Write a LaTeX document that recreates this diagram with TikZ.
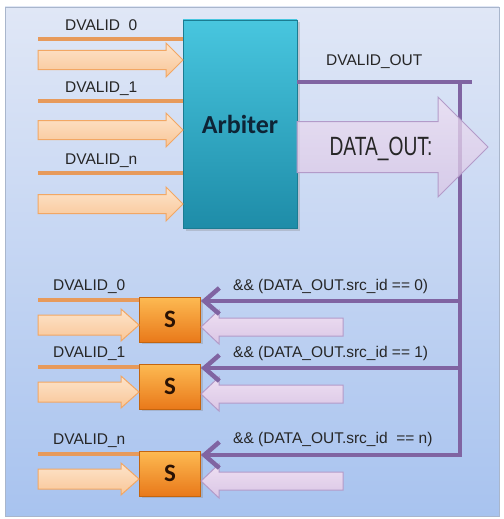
\documentclass[tikz,border=0pt]{standalone}
\usepackage{fontspec}
\setmainfont{Liberation Sans}
\newfontfamily\calibrifont{Carlito}
\usetikzlibrary{arrows.meta,shadows}

\definecolor{bgtop}{HTML}{E0E7F6}
\definecolor{bgbot}{HTML}{A8C3EF}
\definecolor{frameedge}{HTML}{A9B6CC}
\definecolor{arbtop}{HTML}{48C6DF}
\definecolor{arbbot}{HTML}{1E8CA8}
\definecolor{arbedge}{HTML}{1B7C92}
\definecolor{arbtext}{HTML}{0E2436}
\definecolor{sigorange}{HTML}{E79A5B}
\definecolor{peachtop}{HTML}{FDE4CB}
\definecolor{peachbot}{HTML}{F9C697}
\definecolor{peachedge}{HTML}{F2A764}
\definecolor{buspurple}{HTML}{8064A2}
\definecolor{lilactop}{HTML}{EEDFF2}
\definecolor{lilacbot}{HTML}{DAC6E5}
\definecolor{lilacedge}{HTML}{B39BC9}
\definecolor{stop}{HTML}{FDBA52}
\definecolor{sbot}{HTML}{E9791A}
\definecolor{sedge}{HTML}{C4650F}
\definecolor{stext}{HTML}{2A1204}

% block arrow: style, tail x, tip x, centre y, body half height, head half height, signed head length
\newcommand{\blockarrow}[7]{%
  \path[#1] ({#2},{#4-#5}) -- ({#3-(#7)},{#4-#5}) -- ({#3-(#7)},{#4-#6}) -- ({#3},{#4})
    -- ({#3-(#7)},{#4+#6}) -- ({#3-(#7)},{#4+#5}) -- ({#2},{#4+#5}) -- cycle;}

\tikzset{
  sig/.style={draw=sigorange, line width=3.5pt},
  bus/.style={draw=buspurple, line width=4.5pt},
  busarrow/.style={bus, -{Straight Barb[length=15pt,width=26pt]}},
  inarrow/.style={top color=peachtop, bottom color=peachbot, draw=peachedge, line width=1pt},
  backarrow/.style={top color=lilactop, bottom color=lilacbot, draw=lilacedge, line width=1pt},
  outarrow/.style={top color=lilactop, bottom color=lilacbot, draw=lilacedge, line width=1pt, fill opacity=0.75},
  lbl/.style={font=\fontsize{15.5}{18}\selectfont, text=black!85, inner sep=0pt, anchor=west},
  arbbox/.style={rectangle, minimum width=114pt, minimum height=208pt,
    top color=arbtop, bottom color=arbbot, draw=arbedge, line width=0.8pt,
    drop shadow={opacity=0.3, shadow xshift=2.5pt, shadow yshift=-2.5pt},
    font=\calibrifont\bfseries\fontsize{26}{30}\selectfont, text=arbtext, inner sep=0pt},
  sbox/.style={rectangle, minimum width=61pt, minimum height=45pt,
    top color=stop, bottom color=sbot, draw=sedge, line width=0.8pt,
    drop shadow={opacity=0.3, shadow xshift=2pt, shadow yshift=-2pt},
    font=\calibrifont\bfseries\fontsize{25}{30}\selectfont, text=stext, inner sep=0pt},
}

\begin{document}
\begin{tikzpicture}[x=1pt, y=-1pt]
  \useasboundingbox (0,0) rectangle (503,519);
  % panel
  \path[top color=bgtop, bottom color=bgbot, draw=frameedge, line width=0.8pt]
    (5,7) rectangle (499,516);

  % arbiter box
  \node[arbbox] (arb) at (240,124) {Arbiter};

  % arbiter output bus
  \coordinate (bj) at (460,82);
  \coordinate (bend) at (472,82);
  \coordinate (b0) at (460,301);
  \coordinate (b1) at (460,368);
  \coordinate (b2) at (460,455);
  \draw[bus] (arb.east |- bj) -- (bend);
  \draw[bus] (bj) -- (b0);
  \node[lbl] (lout) at (326,62) {DVALID\_OUT};

  % DATA_OUT block arrow, laid over the bus
  \blockarrow{outarrow}{297}{488}{147}{25.5}{50}{50}
  \node[font=\fontsize{24}{28}\selectfont, text=black!85] (dout) at (381,149) {\scalebox{0.8}[1.1]{DATA\_OUT:}};

  % inputs to the arbiter
  \coordinate (a0) at (38,39);
  \coordinate (a1) at (38,101);
  \coordinate (a2) at (38,173);
  \draw[sig] (a0) -- (a0 -| arb.west);
  \draw[sig] (a1) -- (a1 -| arb.west);
  \draw[sig] (a2) -- (a2 -| arb.west);
  \node[lbl] (la0) at (65,25) {DVALID\hspace{0.556em}0};
  \node[lbl] (la1) at (65,89) {DVALID\_1};
  \node[lbl] (la2) at (65,161) {DVALID\_n};
  \blockarrow{inarrow}{38}{183}{60}{9.5}{17}{17}
  \blockarrow{inarrow}{38}{183}{130}{9.5}{17}{17}
  \blockarrow{inarrow}{38}{183}{204}{9.5}{17}{17}

  % selector boxes
  \node[sbox] (s0) at (170,319.5) {S};
  \node[sbox] (s1) at (170,386.5) {S};
  \node[sbox] (s2) at (170,473.5) {S};

  % valid inputs to the selectors
  \coordinate (c0) at (38,300);
  \coordinate (c1) at (38,367);
  \coordinate (c2) at (38,454);
  \draw[sig] (c0) -- (c0 -| s0.west);
  \draw[sig] (c1) -- (c1 -| s1.west);
  \draw[sig] (c2) -- (c2 -| s2.west);
  \node[lbl] (lc0) at (53,287) {DVALID\_0};
  \node[lbl] (lc1) at (53,354) {DVALID\_1};
  \node[lbl] (lc2) at (53,441) {DVALID\_n};
  \blockarrow{inarrow}{38}{139}{325}{10}{16}{18}
  \blockarrow{inarrow}{38}{139}{392}{10}{16}{18}
  \blockarrow{inarrow}{38}{139}{479}{10}{16}{18}

  % data fed back into the selectors
  \blockarrow{backarrow}{343}{201}{327}{9}{17}{-18}
  \blockarrow{backarrow}{343}{201}{394}{9}{17}{-18}
  \blockarrow{backarrow}{343}{201}{481}{9}{17}{-18}

  % bus branches into the selectors
  \draw[bus] (b0) -- (b1);
  \draw[busarrow] (b0) -- (b0 -| s0.east);
  \draw[busarrow] (b1) -- (b1 -| s1.east);
  \draw[busarrow] (b1) |- (b2) -- (b2 -| s2.east);
  \node[lbl] (lq0) at (233,286) {\&\& (DATA\_OUT.src\_id == 0)};
  \node[lbl] (lq1) at (233,353) {\&\& (DATA\_OUT.src\_id == 1)};
  \node[lbl] (lq2) at (233,439) {\&\& (DATA\_OUT.src\_id \ == n)};
\end{tikzpicture}
\end{document}
